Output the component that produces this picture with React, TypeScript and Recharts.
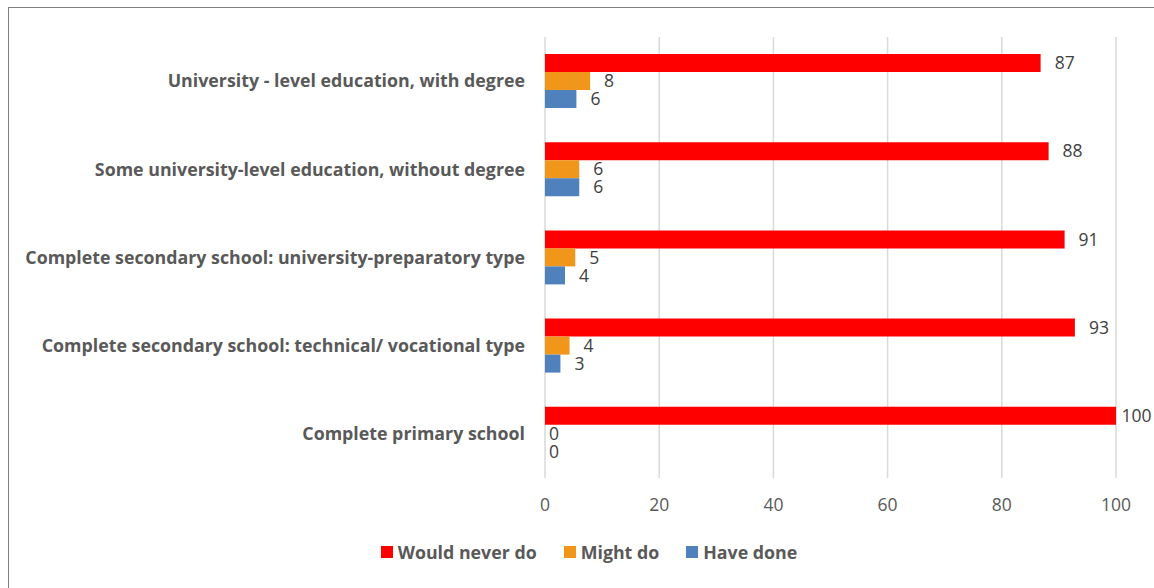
import { BarChart, Bar, XAxis, YAxis, CartesianGrid, Legend, LabelList } from "recharts";

const categories = [
  "University - level education, with degree",
  "Some university-level education, without degree",
  "Complete secondary school: university-preparatory type",
  "Complete secondary school: technical/ vocational type",
  "Complete primary school",
];

const wouldNeverDo = [86.8, 88.2, 91, 92.8, 100];
const mightDo = [7.9, 6, 5.3, 4.3, 0];
const haveDone = [5.5, 6, 3.5, 2.7, 0];

const xTicks = [0, 20, 40, 60, 80, 100];

const seriesInfo = [
  { key: "never", name: "Would never do", color: "#ff0000" },
  { key: "might", name: "Might do", color: "#f0961b" },
  { key: "done", name: "Have done", color: "#4f81bd" },
];

const data = categories.map((name, i) => ({
  name,
  never: wouldNeverDo[i],
  might: mightDo[i],
  done: haveDone[i],
}));

const FONT = "'Open Sans', sans-serif";
const CHART_W = 1145;

// value label right of the bar, kept inside the chart like excel does
const ValueLabel = (props: any) => {
  const { x, y, width, height, value } = props;
  const txt = String(Math.round(Number(value)));
  const off = Number(value) === 0 ? 4 : 14;
  let tx = Number(x) + Number(width) + off;
  const maxX = CHART_W - 2 - txt.length * 10.2;
  if (tx > maxX) tx = maxX;
  return (
    <text
      x={tx}
      y={Number(y) + Number(height) / 2}
      dy="0.35em"
      fill="#404040"
      fontSize={17.5}
      fontFamily={FONT}
    >
      {txt}
    </text>
  );
};

const LegendContent = () => (
  <div
    style={{
      display: "flex",
      justifyContent: "center",
      paddingLeft: 15,
      fontFamily: FONT,
      fontWeight: 700,
      fontSize: 17.8,
      color: "#595959",
    }}
  >
    {seriesInfo.map((s) => (
      <div key={s.key} style={{ display: "flex", alignItems: "center", margin: "0 13.5px" }}>
        <span style={{ width: 12, height: 12, background: s.color, marginRight: 5, display: "inline-block" }} />
        <span>{s.name}</span>
      </div>
    ))}
  </div>
);

export default function App() {
  return (
    <div
      style={{
        position: "absolute",
        left: 8,
        top: 7,
        width: 1146,
        height: 581,
        boxSizing: "border-box",
        borderLeft: "1px solid #7f7f7f",
        borderTop: "1px solid #7f7f7f",
        fontFamily: FONT,
        overflow: "hidden",
      }}
    >
      <BarChart
        width={CHART_W}
        height={580}
        data={data}
        layout="vertical"
        margin={{ top: 29, right: 38, left: 0, bottom: 80 }}
        barCategoryGap={17}
        barGap={0}
      >
        <CartesianGrid horizontal={false} stroke="#d9d9d9" strokeWidth={1.5} />
        <XAxis
          type="number"
          domain={[0, 100]}
          ticks={xTicks}
          axisLine={false}
          tickLine={false}
          tickMargin={15}
          height={30}
          tick={{ fill: "#595959", fontSize: 17.5, fontFamily: FONT }}
        />
        <YAxis
          type="category"
          dataKey="name"
          width={536}
          axisLine={false}
          tickLine={false}
          tickMargin={14}
          interval={0}
          tick={{ fill: "#595959", fontSize: 17.8, fontWeight: 700, fontFamily: FONT }}
        />
        <Legend
          verticalAlign="middle"
          align="center"
          wrapperStyle={{ top: 532, left: 0, width: CHART_W }}
          content={<LegendContent />}
        />
        {seriesInfo.map((s) => (
          <Bar
            key={s.key}
            dataKey={s.key}
            name={s.name}
            fill={s.color}
            minPointSize={(v: number) => (v === 0 ? 0.01 : 0)}
            isAnimationActive={false}
          >
            <LabelList dataKey={s.key} content={<ValueLabel />} />
          </Bar>
        ))}
      </BarChart>
    </div>
  );
}
